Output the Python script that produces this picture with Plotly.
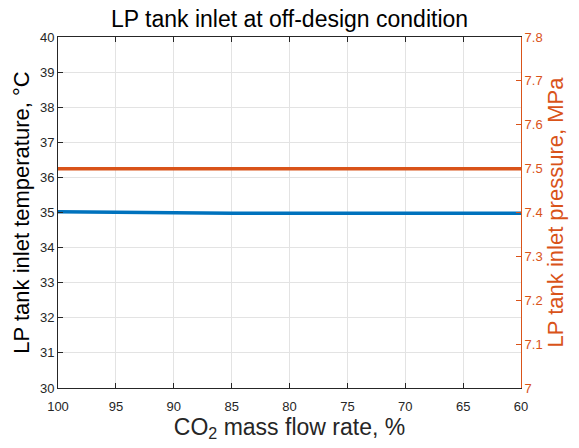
import plotly.graph_objects as go

flow = [100, 95, 90, 85, 80, 75, 70, 65, 60]
temp = [35.02, 35.0, 34.98, 34.98, 34.98, 34.98, 34.98, 34.98, 34.98]
pres = [7.5, 7.5, 7.5, 7.5, 7.5, 7.5, 7.5, 7.5, 7.5]

blue = "#0072BD"
orange = "#D95319"
font = "Liberation Sans, Arial, sans-serif"

fig = go.Figure()
fig.add_trace(go.Scatter(x=flow, y=temp, mode="lines", line=dict(color=blue, width=3.5), yaxis="y"))
fig.add_trace(go.Scatter(x=flow, y=pres, mode="lines", line=dict(color=orange, width=3.5), yaxis="y2"))

fig.update_layout(
    width=579, height=448,
    margin=dict(l=58, r=58, t=37, b=60),
    paper_bgcolor="white", plot_bgcolor="white",
    showlegend=False,
    font=dict(family=font, size=13, color="#262626"),
    title=dict(text="LP tank inlet at off-design condition", x=0.5, xanchor="center",
               y=1 - 19 / 448, yanchor="middle", font=dict(size=23, color="#000000")),
    xaxis=dict(range=[100, 60], tickvals=flow, showgrid=True, gridcolor="#e3e3e3",
               showline=True, linecolor="#262626", linewidth=1, mirror="ticks",
               ticks="inside", ticklen=5, tickcolor="#262626", zeroline=False,
               ticklabelstandoff=6,
               title=dict(text="CO<sub>2</sub> mass flow rate, %", font=dict(size=23, color="#262626"), standoff=3),
               tickfont=dict(size=13, color="#262626")),
    yaxis=dict(range=[30, 40], dtick=1, showgrid=True, gridcolor="#e3e3e3",
               showline=True, linecolor="#262626", linewidth=1,
               ticks="inside", ticklen=5, tickcolor="#262626", zeroline=False,
               title=dict(text="LP tank inlet temperature, °C", font=dict(size=22, color="#000000"), standoff=4),
               tickfont=dict(size=13, color="#262626")),
    yaxis2=dict(range=[7, 7.8], dtick=0.1, overlaying="y", side="right", showgrid=False,
                showline=True, linecolor=orange, linewidth=1,
                ticks="inside", ticklen=5, tickcolor=orange, zeroline=False,
                tickformat="~g",
                title=dict(text="LP tank inlet pressure, MPa", font=dict(size=22, color=orange), standoff=4),
                tickfont=dict(size=13, color=orange)),
)

fig.write_html("out.html")
